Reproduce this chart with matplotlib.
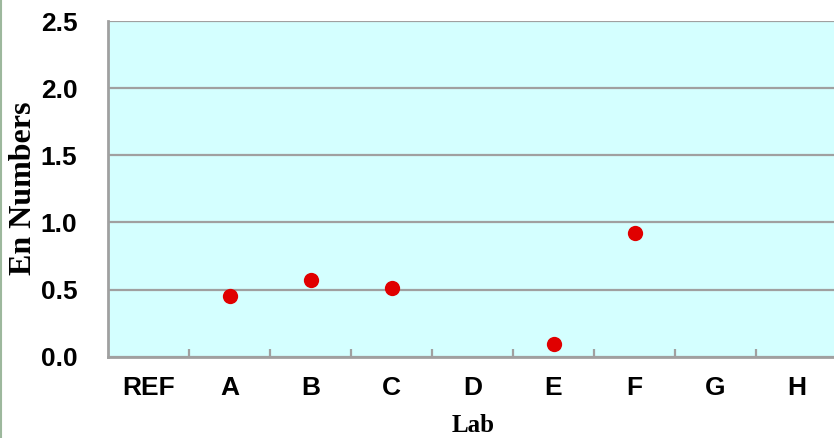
import numpy as np
import matplotlib
matplotlib.use("Agg")
import matplotlib.pyplot as plt
from matplotlib.lines import Line2D

# data
labs = ["REF", "A", "B", "C", "D", "E", "F", "G", "H"]
en_labs = ["A", "B", "C", "E", "F"]
en_values = [0.45, 0.57, 0.51, 0.095, 0.92]
y_ticks = [0.0, 0.5, 1.0, 1.5, 2.0, 2.5]

W, H = 834, 438
fig = plt.figure(figsize=(W / 100, H / 100), dpi=100)

# plot area (runs a little past the right edge, as in the reference)
x0, x1, y_top, y_bot = 108, 837, 21, 356.7
ax = fig.add_axes([x0 / W, (H - y_bot) / H, (x1 - x0) / W, (y_bot - y_top) / H])
ax.set_facecolor("#D4FFFF")

grey = "#A0A0A0"
xpos = [labs.index(l) for l in en_labs]
ax.plot(xpos, en_values, linestyle="none", marker="o", markersize=11,
        color="#E00000", markeredgewidth=0, zorder=3)

ax.set_xlim(-0.5, len(labs) - 0.5)
ax.set_ylim(0, 2.5)

# y axis
ax.set_yticks(y_ticks)
ax.set_yticklabels([f"{v:.1f}" for v in y_ticks])
ax.yaxis.grid(True, color=grey, linewidth=1.6)
ax.set_axisbelow(True)
ax.tick_params(axis="y", length=0, pad=22)

# x axis: tick marks between categories, labels centred
ax.set_xticks(np.arange(0.5, len(labs) - 0.5, 1.0))
ax.set_xticklabels([])
ax.set_xticks(np.arange(len(labs)), minor=True)
ax.set_xticklabels(labs, minor=True)
ax.tick_params(axis="x", which="major", direction="in", length=6, width=1.6, color=grey)
ax.tick_params(axis="x", which="minor", length=0, pad=14)

for lab in ax.get_xticklabels(minor=True) + ax.get_yticklabels():
    lab.set_fontfamily("Liberation Sans")
    lab.set_fontweight("bold")
    lab.set_fontsize(19)

for s in ["top", "right"]:
    ax.spines[s].set_visible(False)
for s in ["left", "bottom"]:
    ax.spines[s].set_color(grey)
    ax.spines[s].set_linewidth(2)

fig.text(24 / W, 1 - 188 / H, "En Numbers", rotation=90, ha="center", va="center",
         fontfamily="Liberation Serif", fontweight="bold", fontsize=23)
fig.text(473 / W, 1 - 426 / H, "Lab", ha="center", va="center",
         fontfamily="Liberation Serif", fontweight="bold", fontsize=18)

# thin frame line on the left edge
fig.add_artist(Line2D([1 / W, 1 / W], [0, 1], transform=fig.transFigure,
                      color="#9DB89D", linewidth=1.5))

fig.savefig("out.png", dpi=100)
